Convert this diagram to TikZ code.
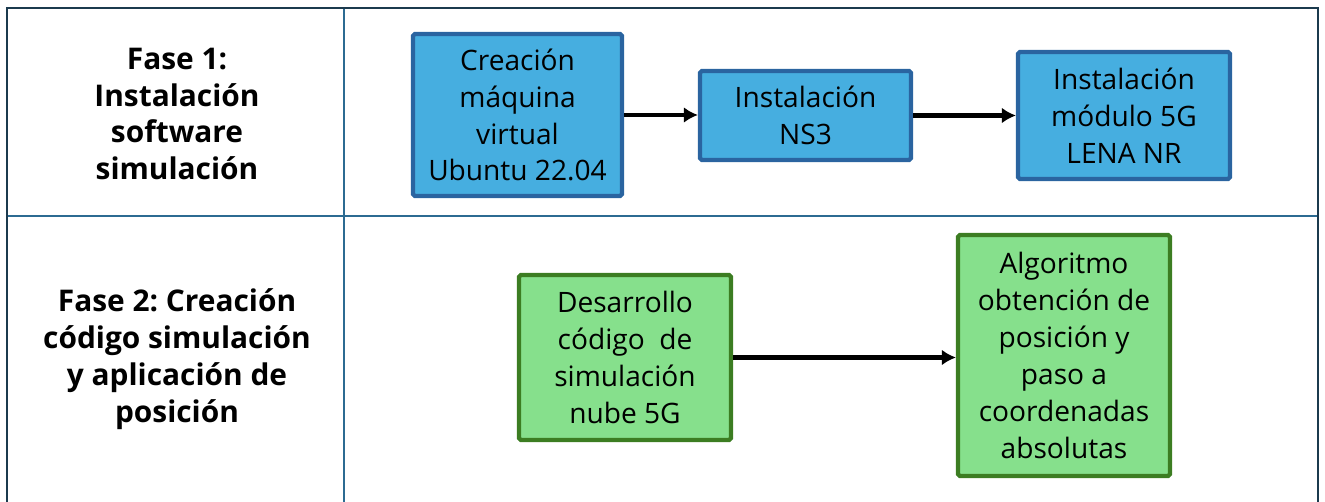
\documentclass[tikz,border=0pt]{standalone}
\usepackage{fontspec}
\setmainfont{Open Sans}
\usetikzlibrary{arrows.meta}
\definecolor{azulfondo}{HTML}{46AEE0}
\definecolor{azulborde}{HTML}{2A64A0}
\definecolor{verdefondo}{HTML}{86E08C}
\definecolor{verdeborde}{HTML}{3C7D22}
\definecolor{marco}{HTML}{1B3A4E}
\definecolor{rejilla}{HTML}{2C6B92}
\tikzset{>={Latex[length=8,width=9]}}
\tikzstyle{arrow} = [line width=2.4pt,->]
\tikzstyle{fase} = [align=center,font=\frenchspacing\bfseries\fontsize{17}{21}\selectfont]
\tikzstyle{paso} = [draw,line width=2.4pt,rounded corners=1pt,align=center,inner sep=0pt,
  font=\fontsize{16}{21}\selectfont]
\tikzstyle{pasoazul} = [paso,fill=azulfondo,draw=azulborde]
\tikzstyle{pasoverde} = [paso,fill=verdefondo,draw=verdeborde]

\begin{document}
\begin{tikzpicture}[x=0.02cm,y=-0.02cm]
\useasboundingbox (0,0) rectangle (1325,502);
% tabla
\draw[rejilla,line width=1.3pt] (344,8) -- (344,502);
\draw[rejilla,line width=1.3pt] (7,216) -- (1318,216);
\draw[marco,line width=1.3pt] (7,502) -- (7,8) -- (1318,8) -- (1318,502);
% columna de fases
\node[fase] (fase1) at (177,114) {Fase 1:\\Instalación\\software\\simulación};
\node[fase] (fase2) at (177,359) {Fase 2: Creación\\código simulación\\y aplicación de\\posición};
% fase 1
\node[pasoazul,minimum width=4.18cm,minimum height=3.24cm] (vm) at (517.5,115)
 {Creación\\máquina\\virtual\\Ubuntu 22.04};
\node[pasoazul,minimum width=4.22cm,minimum height=1.78cm] (ns3) at (805.5,115.5)
 {Instalación\\NS3};
\node[pasoazul,minimum width=4.24cm,minimum height=2.54cm] (lena) at (1124,115.5)
 {Instalación\\módulo 5G\\LENA NR};
\draw[arrow] (vm.east) -- (vm.east -| ns3.west);
\draw[arrow] (ns3.east) -- (ns3.east -| lena.west);
% fase 2
\node[pasoverde,minimum width=4.24cm,minimum height=3.3cm] (codigo) at (625,357.5)
 {Desarrollo\\código~ de\\simulación\\nube 5G};
\node[pasoverde,minimum width=4.24cm,minimum height=4.82cm] (algo) at (1064,355.5)
 {Algoritmo\\obtención de\\posición y\\paso a\\coordenadas\\absolutas};
\draw[arrow] (codigo.east) -- (codigo.east -| algo.west);
\end{tikzpicture}
\end{document}
